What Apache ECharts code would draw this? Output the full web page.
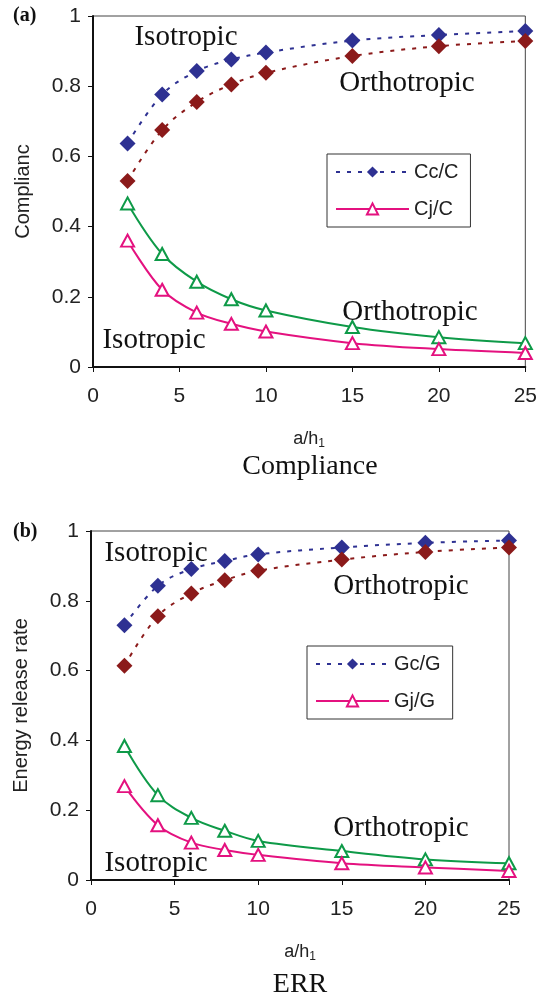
<!DOCTYPE html>
<html>
<head>
<meta charset="utf-8">
<script src="https://cdn.jsdelivr.net/npm/echarts@6/dist/echarts.min.js"></script>
<style>
html,body{margin:0;padding:0;background:#fff;}
#chart{width:540px;height:998px;}
</style>
</head>
<body>
<div id="chart"></div>
<script>
// ---- data ----
var xVals = [2, 4, 6, 8, 10, 15, 20, 25];
var xTicks = [0, 5, 10, 15, 20, 25];
var yTicks = [0, 0.2, 0.4, 0.6, 0.8, 1];

// (a) Compliance
var ccIso = [0.637, 0.776, 0.843, 0.876, 0.896, 0.930, 0.946, 0.957];
var ccOrt = [0.530, 0.675, 0.755, 0.805, 0.838, 0.886, 0.914, 0.929];
var cjOrt = [0.466, 0.322, 0.243, 0.193, 0.161, 0.114, 0.085, 0.068];
var cjIso = [0.360, 0.220, 0.155, 0.123, 0.101, 0.068, 0.051, 0.040];

// (b) Energy release rate
var gcIso = [0.730, 0.843, 0.891, 0.914, 0.933, 0.953, 0.966, 0.973];
var gcOrt = [0.614, 0.756, 0.821, 0.859, 0.886, 0.918, 0.940, 0.953];
var gjOrt = [0.384, 0.243, 0.178, 0.141, 0.112, 0.083, 0.059, 0.048];
var gjIso = [0.269, 0.157, 0.107, 0.086, 0.072, 0.048, 0.036, 0.026];

var SANS = 'Liberation Sans, Arial, sans-serif';
var SERIF = 'Liberation Serif, Times New Roman, serif';
var BLUE = '#2e3192', RED = '#8b1a1a', GREEN = '#0e9a48', PINK = '#e4117f';

function pairs(ys) { return xVals.map(function (x, i) { return [x, ys[i]]; }); }

function xAxis(idx) {
  return {
    type: 'value', gridIndex: idx, min: xTicks[0], max: xTicks[xTicks.length - 1], interval: 5,
    name: '{a|a/h}{s|1}', nameLocation: 'middle', nameGap: 61,
    nameTextStyle: { rich: {
      a: { fontFamily: SANS, fontSize: 18, color: '#222' },
      s: { fontFamily: SANS, fontSize: 12, color: '#222', padding: [10, 0, 0, 0] }
    } },
    axisLine: { show: true, lineStyle: { color: '#111', width: 2 } },
    axisTick: { show: true, inside: false, length: 5, lineStyle: { color: '#111', width: 1 } },
    axisLabel: { fontFamily: SANS, fontSize: 21, color: '#222', margin: 19 },
    splitLine: { show: false }
  };
}
function yAxis(idx, name) {
  return {
    type: 'value', gridIndex: idx, min: yTicks[0], max: yTicks[yTicks.length - 1], interval: 0.2,
    name: name, nameLocation: 'middle', nameRotate: 90, nameGap: 60,
    nameTextStyle: { fontFamily: SANS, fontSize: 20, color: '#222' },
    axisLine: { show: true, lineStyle: { color: '#111', width: 2 } },
    axisTick: { show: true, inside: false, length: 5, lineStyle: { color: '#111', width: 1 } },
    axisLabel: { fontFamily: SANS, fontSize: 21, color: '#222', margin: 12,
      formatter: function (v) { return String(+v.toFixed(1)); } },
    splitLine: { show: false }
  };
}
function dashSeries(name, idx, ys, color) {
  return {
    name: name, type: 'line', xAxisIndex: idx, yAxisIndex: idx, data: pairs(ys),
    smooth: 0.35, symbol: 'diamond', symbolSize: [16, 16],
    itemStyle: { color: color },
    lineStyle: { color: color, width: 2, type: [4, 7] },
    emphasis: { disabled: true }, z: 3
  };
}
function solidSeries(name, idx, ys, color) {
  return {
    name: name, type: 'line', xAxisIndex: idx, yAxisIndex: idx, data: pairs(ys),
    smooth: 0.35, symbol: 'triangle', symbolSize: [13, 12],
    itemStyle: { color: '#fff', borderColor: color, borderWidth: 2 },
    lineStyle: { color: color, width: 2 },
    emphasis: { disabled: true }, z: 3
  };
}
function legend(top, left, names) {
  return {
    data: names, orient: 'vertical', left: left, top: top,
    itemWidth: 73, itemHeight: 14, itemGap: 17,
    padding: [8, 12, 8, 8],
    backgroundColor: '#fff', borderColor: '#333', borderWidth: 1,
    textStyle: { fontFamily: SANS, fontSize: 20, color: '#222', lineHeight: 20 }
  };
}
function label(text, x, y, size, bold, align) {
  return { type: 'text', x: x, y: y, z: 10, style: {
    text: text, fontFamily: SERIF, fontSize: size, fontWeight: bold ? 'bold' : 'normal',
    fill: '#111', textAlign: align || 'center', textVerticalAlign: 'middle' } };
}

var chart = echarts.init(document.getElementById('chart'), null, { renderer: 'canvas' });
chart.setOption({
  animation: false,
  backgroundColor: '#fff',
  grid: [
    { left: 93, top: 16, right: 11, bottom: 631, show: true, borderColor: '#444', borderWidth: 1, backgroundColor: 'transparent' },
    { left: 91, top: 531, right: 31, bottom: 118, show: true, borderColor: '#444', borderWidth: 1, backgroundColor: 'transparent' }
  ],
  xAxis: [xAxis(0), xAxis(1)],
  yAxis: [yAxis(0, 'Complianc'), yAxis(1, 'Energy release rate')],
  legend: [legend(154, 327, ['Cc/C', 'Cj/C']), legend(646, 307, ['Gc/G', 'Gj/G'])],
  series: [
    dashSeries('Cc/C', 0, ccIso, BLUE),
    dashSeries('Cc/C orthotropic', 0, ccOrt, RED),
    solidSeries('Cj/C orthotropic', 0, cjOrt, GREEN),
    solidSeries('Cj/C', 0, cjIso, PINK),
    dashSeries('Gc/G', 1, gcIso, BLUE),
    dashSeries('Gc/G orthotropic', 1, gcOrt, RED),
    solidSeries('Gj/G orthotropic', 1, gjOrt, GREEN),
    solidSeries('Gj/G', 1, gjIso, PINK)
  ],
  graphic: [
    label('(a)', 13, 16, 20, true, 'left'),
    label('Isotropic', 186, 37, 29),
    label('Orthotropic', 407, 83, 29),
    label('Orthotropic', 410, 312, 29),
    label('Isotropic', 154, 340, 29),
    label('Compliance', 310, 467, 28),
    label('(b)', 13, 532, 20, true, 'left'),
    label('Isotropic', 156, 553, 29),
    label('Orthotropic', 401, 586, 29),
    label('Orthotropic', 401, 828, 29),
    label('Isotropic', 156, 863, 29),
    label('ERR', 300, 985, 28)
  ]
});
</script>
</body>
</html>
